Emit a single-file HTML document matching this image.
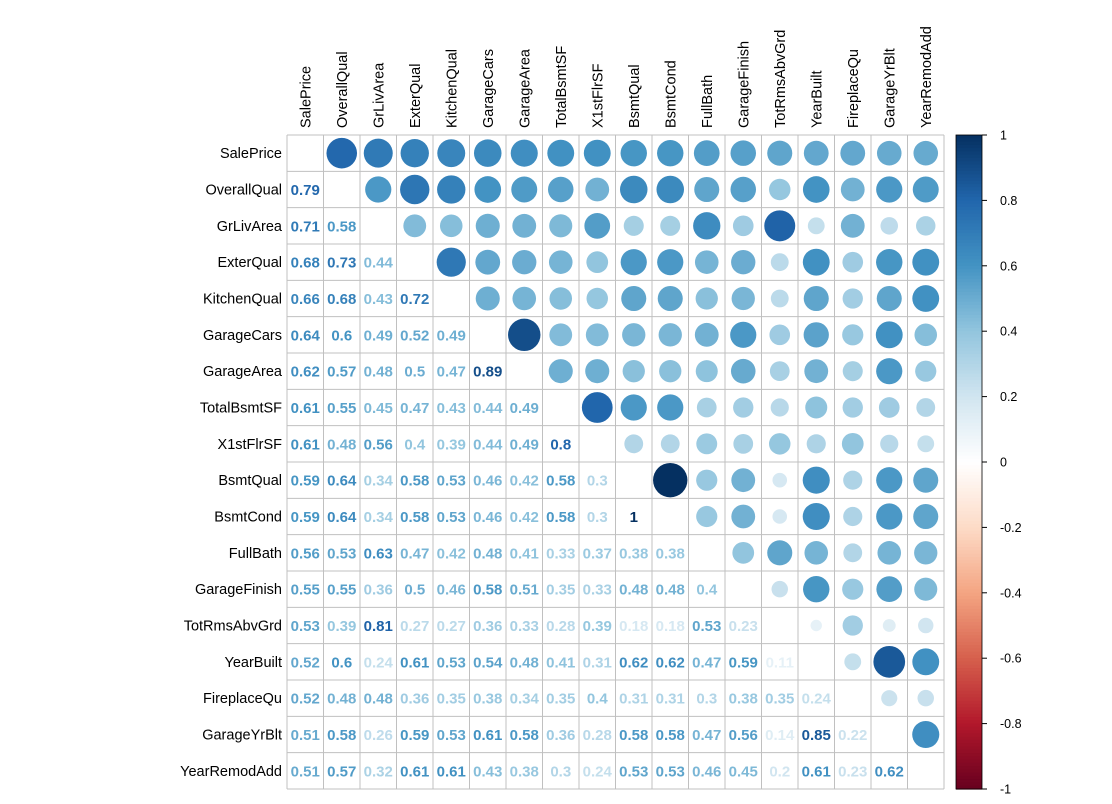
<!DOCTYPE html>
<html><head><meta charset="utf-8"><style>
html,body{margin:0;padding:0;background:#fff;}
svg{display:block;font-family:"Liberation Sans",Arial,sans-serif;}
</style></head><body>
<svg id="chart" width="1112" height="804" viewBox="0 0 1112 804"></svg>
<script>
const variables = ["SalePrice","OverallQual","GrLivArea","ExterQual","KitchenQual","GarageCars","GarageArea","TotalBsmtSF","X1stFlrSF","BsmtQual","BsmtCond","FullBath","GarageFinish","TotRmsAbvGrd","YearBuilt","FireplaceQu","GarageYrBlt","YearRemodAdd"];
const lowerValues = [
[],
[0.79],
[0.71,0.58],
[0.68,0.73,0.44],
[0.66,0.68,0.43,0.72],
[0.64,0.6,0.49,0.52,0.49],
[0.62,0.57,0.48,0.5,0.47,0.89],
[0.61,0.55,0.45,0.47,0.43,0.44,0.49],
[0.61,0.48,0.56,0.4,0.39,0.44,0.49,0.8],
[0.59,0.64,0.34,0.58,0.53,0.46,0.42,0.58,0.3],
[0.59,0.64,0.34,0.58,0.53,0.46,0.42,0.58,0.3,1],
[0.56,0.53,0.63,0.47,0.42,0.48,0.41,0.33,0.37,0.38,0.38],
[0.55,0.55,0.36,0.5,0.46,0.58,0.51,0.35,0.33,0.48,0.48,0.4],
[0.53,0.39,0.81,0.27,0.27,0.36,0.33,0.28,0.39,0.18,0.18,0.53,0.23],
[0.52,0.6,0.24,0.61,0.53,0.54,0.48,0.41,0.31,0.62,0.62,0.47,0.59,0.11],
[0.52,0.48,0.48,0.36,0.35,0.38,0.34,0.35,0.4,0.31,0.31,0.3,0.38,0.35,0.24],
[0.51,0.58,0.26,0.59,0.53,0.61,0.58,0.36,0.28,0.58,0.58,0.47,0.56,0.14,0.85,0.22],
[0.51,0.57,0.32,0.61,0.61,0.43,0.38,0.3,0.24,0.53,0.53,0.46,0.45,0.2,0.61,0.23,0.62]
];
const colorbarTicks = [1,0.8,0.6,0.4,0.2,0,-0.2,-0.4,-0.6,-0.8,-1];
const palette = ["#67001F","#B2182B","#D6604D","#F4A582","#FDDBC7","#FFFFFF","#D1E5F0","#92C5DE","#4393C3","#2166AC","#053061"];

const NS="http://www.w3.org/2000/svg";
const svg=document.getElementById('chart');
const X0=287, Y0=135, X1=944, Y1=789;
const n=variables.length;
const cw=(X1-X0)/n, ch=(Y1-Y0)/n;
const xc=j=>X0+cw*(j+0.5);
const yc=i=>Y0+ch*(i+0.5);
function hex(h){return [1,3,5].map(k=>parseInt(h.substr(k,2),16));}
function color(v){
  const t=(Math.max(-1,Math.min(1,v))+1)/2*(palette.length-1);
  const k=Math.min(Math.floor(t),palette.length-2), f=t-k;
  const a=hex(palette[k]), b=hex(palette[k+1]);
  return "rgb("+a.map((c,i)=>Math.round(c+(b[i]-c)*f)).join(",")+")";
}
function val(i,j){ if(i===j) return 1; return i>j?lowerValues[i][j]:lowerValues[j][i]; }
function el(tag,attrs){const e=document.createElementNS(NS,tag);for(const k in attrs)e.setAttribute(k,attrs[k]);svg.appendChild(e);return e;}

// grid
for(let k=0;k<=n;k++){
  const gv=el('line',{x1:X0+cw*k,x2:X0+cw*k,y1:Y0,y2:Y1,stroke:'#c0c0c0','stroke-width':1});
  
  
  const gh=el('line',{x1:X0,x2:X1,y1:Y0+ch*k,y2:Y0+ch*k,stroke:'#c0c0c0','stroke-width':1});
  
  
}
// labels
variables.forEach((name,i)=>{
  const r=el('text',{x:282,y:yc(i)+5,'text-anchor':'end','font-size':14.5,fill:'#000'});
  r.textContent=name;
  
  
  const c=el('text',{x:0,y:0,'font-size':14.5,fill:'#000',transform:`translate(${xc(i)+5},128) rotate(-90)`});
  c.textContent=name;
  
  
});
// cells
for(let i=0;i<n;i++)for(let j=0;j<n;j++){
  if(i===j) continue;
  const v=val(i,j);
  if(j>i){
    const c=el('circle',{cx:xc(j),cy:yc(i),r:17.2*Math.sqrt(Math.abs(v)),fill:color(v)});
    
    
  } else {
    const t=el('text',{x:xc(j),y:yc(i)+5.5,'text-anchor':'middle','font-size':15,'font-weight':'bold',fill:color(v)});
    t.textContent=String(v);
    
    
  }
}
// colorbar
const CB0=956, CB1=982, steps=200;
const cbY=v=>Y0+(1-v)/2*(Y1-Y0);
for(let s=0;s<steps;s++){
  const v=1-2*s/steps;
  const rct=el('rect',{x:CB0,y:cbY(v),width:CB1-CB0,height:(Y1-Y0)/steps+0.6,fill:color(v-1/steps)});
  
  
}
const cbBorder=el('rect',{x:CB0,y:Y0,width:CB1-CB0,height:Y1-Y0,fill:'none',stroke:'#000','stroke-width':0.8});


colorbarTicks.forEach(v=>{
  const tk=el('line',{x1:CB1,x2:CB1+5,y1:cbY(v),y2:cbY(v),stroke:'#000','stroke-width':1});
  
  
  const tl=el('text',{x:1000,y:cbY(v)+4.5,'font-size':12.5,fill:'#000'});
  tl.textContent=String(v);
  
  
});
</script>
</body></html>
